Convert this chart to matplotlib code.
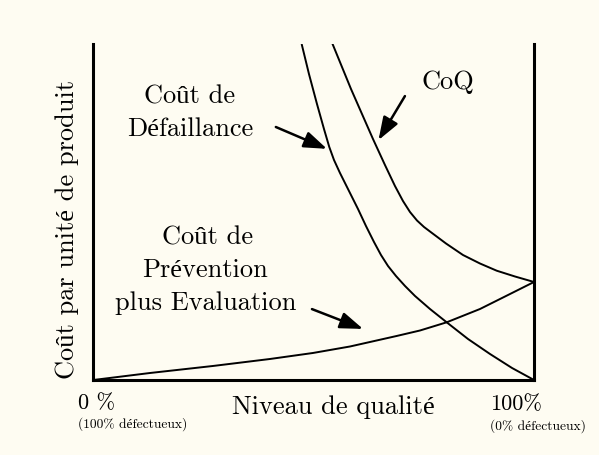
import matplotlib
matplotlib.use("Agg")
import matplotlib.pyplot as plt

plt.rcParams['font.family'] = ['cmr10', 'Liberation Serif', 'DejaVu Serif']
plt.rcParams['axes.formatter.use_mathtext'] = True

BG = '#fefcf2'

# Quality level (0..100) and cost (arbitrary 0..100)
fail_x = [47.26, 48.92, 50.74, 52.33, 53.53, 54.60, 55.96, 57.55, 60.05, 61.86, 63.68,
          65.27, 66.86, 68.67, 70.72, 72.99, 76.39, 80.18, 85.02, 90.01, 95.01, 100.0]
fail_y = [100.0, 91.07, 82.14, 74.70, 69.35, 65.48, 61.61, 57.44, 50.89, 45.83, 41.07,
          37.20, 33.93, 30.95, 27.98, 25.00, 21.13, 17.17, 12.20, 7.74, 3.57, 0.0]

coq_x = [54.09, 58.46, 63.45, 66.17, 68.44, 70.26, 71.85, 73.44, 75.03, 76.84, 80.02,
         83.88, 87.74, 91.53, 95.69, 100.0]
coq_y = [100.6, 86.61, 71.73, 63.99, 57.74, 53.27, 50.00, 47.47, 45.54, 43.75, 40.63,
         37.20, 34.67, 32.53, 30.80, 29.17]

prev_x = [0.0, 12.83, 27.13, 40.07, 49.83, 58.23, 68.83, 74.12, 80.18, 84.34, 87.74, 93.42, 100.0]
prev_y = [0.0, 2.08, 4.17, 6.25, 8.04, 9.97, 13.10, 14.73, 17.17, 19.35, 21.13, 24.85, 29.17]

fig = plt.figure(figsize=(5.99, 4.56), dpi=100, facecolor=BG)
ax = fig.add_axes([0.156, 0.1645, 0.7355, 0.7368], facecolor=BG)
ax.set_xlim(0, 100)
ax.set_ylim(0, 100)
ax.set_xticks([])
ax.set_yticks([])
ax.spines['top'].set_visible(False)
for s in ['left', 'right', 'bottom']:
    ax.spines[s].set_linewidth(2.2)
    ax.spines[s].set_color('black')

lw = 1.4
for xs, ys in [(fail_x, fail_y), (coq_x, coq_y), (prev_x, prev_y)]:
    ax.plot(xs, ys, color='black', lw=lw, solid_capstyle='butt', solid_joinstyle='round')

fs = 19
ax.text(21.9, 84.5, 'Coût de', fontsize=fs, ha='center', va='center')
ax.text(21.9, 75.0, 'Défaillance', fontsize=fs, ha='center', va='center')
ax.text(80.5, 89.0, 'CoQ', fontsize=fs, ha='center', va='center')
ax.text(25.8, 42.6, 'Coût de', fontsize=fs, ha='center', va='center')
ax.text(25.3, 33.0, 'Prévention', fontsize=fs, ha='center', va='center')
ax.text(25.5, 23.2, 'plus Evaluation', fontsize=fs, ha='center', va='center')

ap = dict(arrowstyle='-|>,head_length=1.4,head_width=0.5', color='black', lw=1.8,
          shrinkA=0, shrinkB=0)
ax.annotate('', xy=(53.0, 68.8), xytext=(41.4, 75.3), arrowprops=ap)
ax.annotate('', xy=(64.7, 71.4), xytext=(70.7, 84.5), arrowprops=ap)
ax.annotate('', xy=(61.2, 15.2), xytext=(49.6, 21.1), arrowprops=ap)

W, H = 599.0, 456.0
fig.text(67 / W, 1 - 229 / H, 'Coût par unité de produit', fontsize=19, rotation=90,
         ha='center', va='center')
fig.text(333 / W, 1 - 407 / H, 'Niveau de qualité', fontsize=19, ha='center', va='center')
fig.text(78 / W, 1 - 403 / H, '0 %', fontsize=16, ha='left', va='center')
fig.text(78 / W, 1 - 424 / H, '(100% défectueux)', fontsize=9.7, ha='left', va='center')
fig.text(490 / W, 1 - 404 / H, '100%', fontsize=16, ha='left', va='center')
fig.text(490 / W, 1 - 426 / H, '(0% défectueux)', fontsize=9.7, ha='left', va='center')

fig.savefig('out.png', dpi=100, facecolor=BG)
